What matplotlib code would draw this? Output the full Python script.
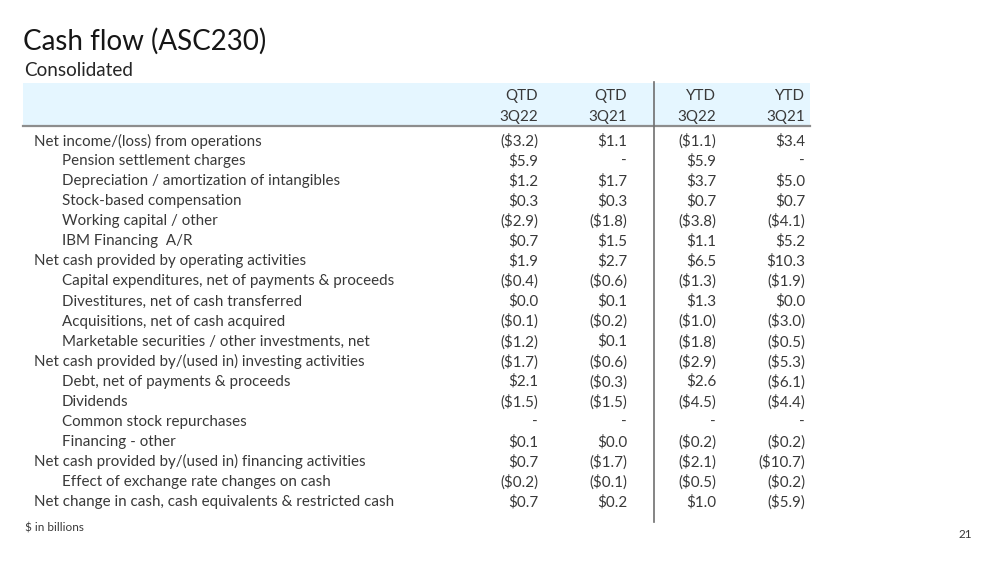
import matplotlib
matplotlib.use("Agg")
import matplotlib.pyplot as plt
from matplotlib.patches import Rectangle

plt.rcParams['font.family'] = ['Lato', 'DejaVu Sans']

title = "Cash flow (ASC230)"
subtitle = "Consolidated"
col_top = ["QTD", "QTD", "YTD", "YTD"]
col_bottom = ["3Q22", "3Q21", "3Q22", "3Q21"]

labels = [
    "Net income/(loss) from operations",
    "Pension settlement charges",
    "Depreciation / amortization of intangibles",
    "Stock-based compensation",
    "Working capital / other",
    "IBM Financing  A/R",
    "Net cash provided by operating activities",
    "Capital expenditures, net of payments & proceeds",
    "Divestitures, net of cash transferred",
    "Acquisitions, net of cash acquired",
    "Marketable securities / other investments, net",
    "Net cash provided by/(used in) investing activities",
    "Debt, net of payments & proceeds",
    "Dividends",
    "Common stock repurchases",
    "Financing - other",
    "Net cash provided by/(used in) financing activities",
    "Effect of exchange rate changes on cash",
    "Net change in cash, cash equivalents & restricted cash",
]
indented = [0, 1, 1, 1, 1, 1, 0, 1, 1, 1, 1, 0, 1, 1, 1, 1, 0, 1, 0]

qtd_3q22 = [-3.2, 5.9, 1.2, 0.3, -2.9, 0.7, 1.9, -0.4, 0.0, -0.1, -1.2, -1.7, 2.1, -1.5, None, 0.1, 0.7, -0.2, 0.7]
qtd_3q21 = [1.1, None, 1.7, 0.3, -1.8, 1.5, 2.7, -0.6, 0.1, -0.2, 0.1, -0.6, -0.3, -1.5, None, 0.0, -1.7, -0.1, 0.2]
ytd_3q22 = [-1.1, 5.9, 3.7, 0.7, -3.8, 1.1, 6.5, -1.3, 1.3, -1.0, -1.8, -2.9, 2.6, -4.5, None, -0.2, -2.1, -0.5, 1.0]
ytd_3q21 = [3.4, None, 5.0, 0.7, -4.1, 5.2, 10.3, -1.9, 0.0, -3.0, -0.5, -5.3, -6.1, -4.4, None, -0.2, -10.7, -0.2, -5.9]
columns = [qtd_3q22, qtd_3q21, ytd_3q22, ytd_3q21]

footnote = "$ in billions"
page_no = "21"


def fmt(v):
    if v is None:
        return "-"
    if v < 0:
        return "(${:.1f})".format(-v)
    return "${:.1f}".format(v)


W, H = 999, 562
fig = plt.figure(figsize=(W / 100, H / 100), dpi=100)
ax = fig.add_axes([0, 0, 1, 1])
ax.set_xlim(0, W)
ax.set_ylim(H, 0)
ax.axis("off")

txt = "#393939"
ax.text(23, 41, title, fontsize=20, color="#161616", va="center", ha="left")
ax.text(24, 71, subtitle, fontsize=13.6, color="#262626", va="center", ha="left")

# header band
ax.add_patch(Rectangle((23, 83), 787, 43, facecolor="#e5f6ff", edgecolor="none", zorder=0))
ax.plot([23, 810], [126, 126], color="#8d8d8d", lw=1.6, zorder=2)
ax.plot([654, 654], [82, 522], color="#6f6f6f", lw=1.2, zorder=2)

col_x = [538, 627, 716, 805]
fs = 10.9
for cx, t, b in zip(col_x, col_top, col_bottom):
    ax.text(cx, 96, t, fontsize=fs, color=txt, ha="right", va="center")
    ax.text(cx, 117, b, fontsize=fs, color=txt, ha="right", va="center")

y0, dy = 141, 20.06
for i, lab in enumerate(labels):
    y = y0 + i * dy
    ax.text(62 if indented[i] else 34, y, lab, fontsize=fs, color=txt, ha="left", va="center")
    for cx, col in zip(col_x, columns):
        ax.text(cx, y, fmt(col[i]), fontsize=fs, color=txt, ha="right", va="center")

ax.text(25, 528, footnote, fontsize=8.5, color=txt, ha="left", va="center")
ax.text(972, 534, page_no, fontsize=8.5, color=txt, ha="right", va="center")

fig.savefig("out.png", dpi=100, facecolor="white")
